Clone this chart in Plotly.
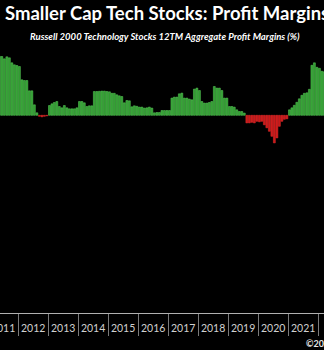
import plotly.graph_objects as go
import pandas as pd

# Monthly 12TM aggregate profit margin (%) of Russell 2000 technology stocks
months = pd.date_range("2011-05-01", "2022-03-01", freq="MS").strftime("%Y-%m-%d").tolist()

margins_2011 = [5.90, 5.88, 5.65, 5.85, 5.75, 5.25, 5.05, 4.98]            # May-Dec
margins_2012 = [4.88, 3.55, 3.48, 3.48, 2.45, 2.45, 1.05, 0.25, -0.10, -0.15, -0.10, -0.05]
margins_2013 = [0.98, 1.15, 1.28, 1.38, 0.88, 0.75, 0.98, 0.75, 0.65, 0.65, 0.65, 0.75]
margins_2014 = [1.38, 1.38, 1.25, 0.88, 0.95, 0.95, 2.38, 2.38, 2.40, 2.42, 2.42, 2.38]
margins_2015 = [2.35, 2.20, 2.20, 2.05, 1.95, 1.88, 1.25, 1.48, 1.45, 0.85, 0.95, 0.90]
margins_2016 = [0.82, 0.82, 0.72, 0.75, 0.82, 0.72, 0.25, 0.28, 0.28, 0.48, 0.48, 0.48]
margins_2017 = [0.48, 1.72, 1.82, 1.82, 2.15, 2.22, 1.72, 1.72, 1.62, 1.55, 2.62, 2.72]
margins_2018 = [2.48, 1.38, 1.22, 1.22, 1.28, 1.38, 2.88, 2.72, 2.72, 2.48, 1.72, 1.72]
margins_2019 = [0.88, 0.88, 0.82, 0.55, 0.38, 0.38, 0.22, -0.76, -0.76, -0.70, -0.76, -0.60]
margins_2020 = [-0.65, -0.60, -0.95, -1.25, -1.60, -2.10, -2.76, -2.26, -1.10, -0.60, -0.40, -0.35]
margins_2021 = [0.55, 0.75, 1.00, 1.30, 1.65, 2.00, 2.20, 2.25, 2.60, 5.00, 5.25, 4.80]
margins_2022 = [4.70, 4.40, 4.35]                                            # Jan-Mar

margins = (margins_2011 + margins_2012 + margins_2013 + margins_2014 + margins_2015
           + margins_2016 + margins_2017 + margins_2018 + margins_2019 + margins_2020
           + margins_2021 + margins_2022)

GREEN_FILL, GREEN_EDGE = "#2f9a2f", "#5fd35f"
RED_FILL, RED_EDGE = "#c81818", "#ee3030"

fill = [GREEN_FILL if v >= 0 else RED_FILL for v in margins]
edge = [GREEN_EDGE if v >= 0 else RED_EDGE for v in margins]

fig = go.Figure(
    go.Bar(
        x=months,
        y=margins,
        xperiod="M1",
        xperiodalignment="middle",
        marker=dict(color=fill, line=dict(color=edge, width=0.5)),
        hovertemplate="%{x|%b %Y}: %{y:.2f}%<extra></extra>",
    )
)

fig.update_layout(
    width=324,
    height=350,
    margin=dict(l=0, r=0, t=50, b=37),
    paper_bgcolor="black",
    plot_bgcolor="black",
    bargap=0.2,
    showlegend=False,
    title=dict(
        text="<b>Smaller Cap Tech Stocks: Profit Margins</b>",
        x=5 / 324, xanchor="left",
        y=1 - 14 / 350, yanchor="middle",
        font=dict(family="Lato", size=18.5, color="white"),
    ),
    annotations=[
        dict(
            text="<b><i>Russell 2000 Technology Stocks 12TM Aggregate Profit Margins (%)</i></b>",
            xref="paper", yref="paper", x=165 / 324, y=1 + 14 / 263,
            xanchor="center", yanchor="middle", showarrow=False,
            font=dict(family="Lato", size=9.5, color="white"),
        ),
        dict(
            text="<b>©2022</b>",
            xref="paper", yref="paper", x=304 / 324, y=-30 / 263,
            xanchor="left", yanchor="middle", showarrow=False,
            font=dict(family="Lato", size=9, color="#e6e6e6"),
        ),
    ],
    xaxis=dict(
        type="date",
        automargin=False,
        range=["2011-05-25", "2022-03-13"],
        # year labels sit mid-year; year boundaries are drawn as minor ticks
        tick0="2011-07-02",
        dtick="M12",
        tickformat="%Y",
        ticks="",
        ticklabeloverflow="allow",
        ticklabelstandoff=5,
        minor=dict(
            tick0="2011-01-01",
            dtick="M12",
            ticks="outside",
            ticklen=22,
            tickwidth=1,
            tickcolor="#7a7a7a",
            showgrid=False,
        ),
        showline=True,
        linecolor="#b0b0b0",
        linewidth=1,
        showgrid=False,
        zeroline=False,
        tickfont=dict(family="Lato", size=10.5, color="#d0d0d0"),
    ),
    yaxis=dict(
        automargin=False,
        range=[-19.77, 6.53],
        visible=False,
        showgrid=False,
        zeroline=False,
    ),
)

fig.write_html("out.html")
